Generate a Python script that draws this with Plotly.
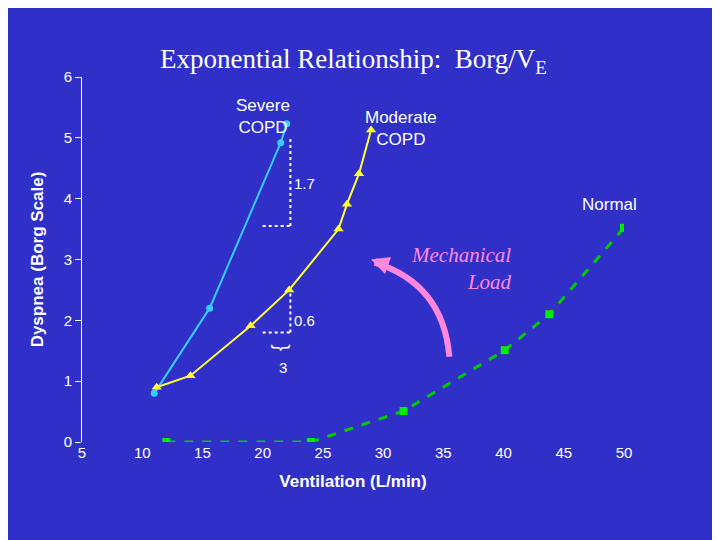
import plotly.graph_objects as go

severe_x = [11, 15.6, 21.5, 22]
severe_y = [0.8, 2.2, 4.92, 5.23]
moderate_x = [11.2, 14.0, 19.0, 22.2, 26.3, 27.0, 28.0, 29.0]
moderate_y = [0.9, 1.09, 1.91, 2.5, 3.5, 3.91, 4.41, 5.13]
normal_x = [12, 24, 31.7, 40.1, 43.8, 50]
normal_y = [0, 0, 0.51, 1.51, 2.1, 3.52]
x_ticks = [5, 10, 15, 20, 25, 30, 35, 40, 45, 50]
y_ticks = [0, 1, 2, 3, 4, 5, 6]

fig = go.Figure()
fig.add_trace(go.Scatter(x=severe_x, y=severe_y, mode="lines+markers",
    line=dict(color="#33ccff", width=2), marker=dict(color="#33ccff", size=7)))
fig.add_trace(go.Scatter(x=moderate_x, y=moderate_y, mode="lines+markers",
    line=dict(color="#ffff33", width=2), marker=dict(color="#ffff33", size=9, symbol="triangle-up")))
fig.add_trace(go.Scatter(x=normal_x, y=normal_y, mode="lines+markers",
    line=dict(color="#00cc00", width=3, dash="dash"), marker=dict(color="#00ee00", size=8, symbol="square")))

wf = dict(family="Arial", color="white", size=17)
dot = dict(color="white", width=2, dash="dot")
shapes = [
    dict(type="line", x0=22.3, x1=22.3, y0=3.55, y1=5.0, line=dot),
    dict(type="line", x0=20, x1=22.3, y0=3.55, y1=3.55, line=dot),
    dict(type="line", x0=22.3, x1=22.3, y0=1.8, y1=2.45, line=dot),
    dict(type="line", x0=20, x1=22.3, y0=1.8, y1=1.8, line=dot),
    dict(type="path", path="M 35.5,1.4 Q 35,2.6 29.3,2.95", line=dict(color="#ff88dd", width=6)),
]
annotations = [
    dict(x=0.5, y=1.095, xref="paper", yref="paper", showarrow=False,
         text="Exponential Relationship:  Borg/V<sub>E</sub>",
         font=dict(family="Times New Roman", size=27, color="white")),
    dict(x=20.0, y=5.35, text="Severe<br>COPD", showarrow=False, font=wf),
    dict(x=31.5, y=5.15, text="Moderate<br>COPD", showarrow=False, font=wf),
    dict(x=48.8, y=3.9, text="Normal", showarrow=False, font=wf),
    dict(x=23.5, y=4.25, text="1.7", showarrow=False, font=dict(family="Arial", color="white", size=15)),
    dict(x=23.5, y=2.0, text="0.6", showarrow=False, font=dict(family="Arial", color="white", size=15)),
    dict(x=21.7, y=1.22, text="3", showarrow=False, font=dict(family="Arial", color="white", size=15)),
    dict(x=21.3, y=1.55, text="{", textangle=-90, showarrow=False,
         font=dict(family="Arial", color="white", size=20)),
    dict(x=36.5, y=2.85, text="<i>Mechanical<br>Load</i>", showarrow=False, align="right",
         font=dict(family="Times New Roman", size=21, color="#ff88dd")),
    dict(x=29.0, y=3.0, ax=30.0, ay=2.93, axref="x", ayref="y", text="", showarrow=True,
         arrowhead=2, arrowsize=0.6, arrowwidth=6, arrowcolor="#ff88dd"),
]
fig.update_layout(
    width=720, height=540, showlegend=False,
    paper_bgcolor="#3030c8", plot_bgcolor="#3030c8",
    margin=dict(l=74, r=104, t=69, b=106),
    shapes=shapes, annotations=annotations,
    xaxis=dict(range=[5, 50], tickvals=x_ticks, showgrid=False, zeroline=False,
               showline=False, ticks="", tickfont=dict(family="Arial", color="white", size=15),
               title=dict(text="<b>Ventilation (L/min)</b>", font=dict(family="Arial", color="white", size=17))),
    yaxis=dict(range=[0, 6], tickvals=y_ticks, showgrid=False, zeroline=False,
               showline=True, linecolor="white", linewidth=1, ticks="outside", tickcolor="white",
               ticklen=6, tickfont=dict(family="Arial", color="white", size=15),
               title=dict(text="<b>Dyspnea (Borg Scale)</b>", font=dict(family="Arial", color="white", size=17))),
)
fig.write_html("out.html")
